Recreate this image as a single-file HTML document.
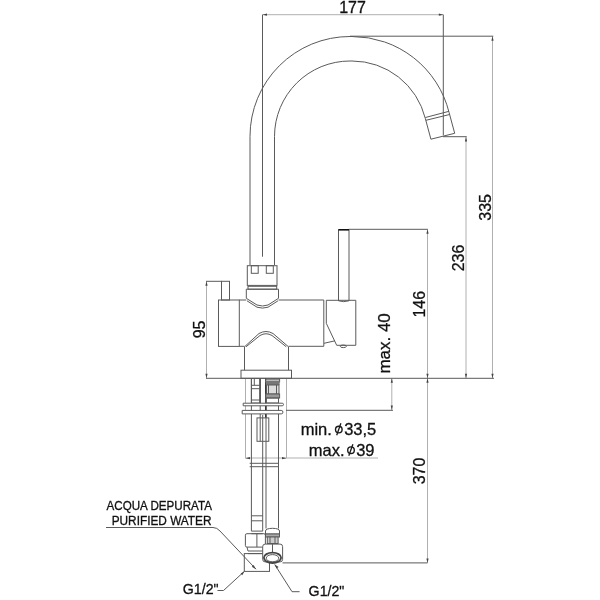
<!DOCTYPE html>
<html><head><meta charset="utf-8">
<style>
html,body{margin:0;padding:0;background:#fff;width:600px;height:600px;overflow:hidden}
svg{display:block;filter:grayscale(100%)}
text{font-family:"Liberation Sans",sans-serif;fill:#111;stroke:#111;stroke-width:0.3}
.d{stroke:#b0b0b0;stroke-width:1;fill:none}
.e{stroke:#5a5a5a;stroke-width:1;fill:none}
.b{stroke:#5a5a5a;stroke-width:1;fill:none}
.t{stroke:#5a5a5a;stroke-width:1;fill:none}
</style></head><body>
<svg width="600" height="600" viewBox="0 0 600 600">
<rect width="600" height="600" fill="#fff"/>
<!-- dimension lines -->
<g class="d">
<path d="M262.5 14.7H443.3M492.5 36.2V378.3M466 136.7V378.3M427.5 229.3V562.9M206.5 281.3V378.3M391.8 378.3V410M245.5 378.5V458M286.5 378.5V458M245 458H378"/>
</g>
<g class="e">
<path d="M262.5 14.7V256.7M443.3 14.7V135.3M350 36.2H493.3M443 136.7H466.7M348.7 229.3H427.8M206 378.3H494M286 410.3H393M282.5 562.9H427.5"/>
</g>
<!-- spout -->
<g class="b">
<path d="M250 265V136.5A100 100 0 0 1 350 36.5H352A100 100 0 0 1 449.07 112.48L454.7 133.3L430.9 139.2L425.3 118.37A75.5 75.5 0 0 0 352 61H350A75.5 75.5 0 0 0 274.5 136.5V265"/>
<path d="M425.4 117.5L449 111.3M425.9 120.3L449.6 114.5"/>
<!-- collar -->
<rect x="247.3" y="265.7" width="29.7" height="19.7"/>
<rect x="251.3" y="265.7" width="6.9" height="7.6"/>
<rect x="266.3" y="265.7" width="7" height="7.6"/>
<rect x="248" y="286.3" width="28.7" height="2.9"/>
<path d="M246.3 289.2V298.3L257 305Q262.5 307 268 305L278.5 298.3V289.2Z"/>
<path d="M247 300.8L257 307.2Q262.5 309 268 307.2L278 300.8"/>
<!-- body -->
<path d="M239.3 300H246.3M278.5 300H323.8V346.3H288.5M244.5 346.3H239.3"/>
<rect x="218.5" y="300" width="20.8" height="46.4"/>
<rect x="221.5" y="281.3" width="8" height="18.7"/>
<path d="M206 281.3H221.5"/>
<path d="M244.5 370.2V346.8L259 333.5Q266 329.5 273 333.5L288.5 346.8V370.2"/>
<path d="M246 346.8L260 335.5Q266 332 272 335.5L286.3 346.8"/>
<rect x="241" y="370.2" width="50.5" height="8.1"/>
<!-- lever base -->
<path d="M326.3 300.3H355.8V345.3H336.7L326.3 323.3Z"/>
<path d="M324 343.3L335 340.8"/>
<ellipse cx="343.3" cy="346.3" rx="3" ry="1.3"/>
<path d="M338.5 300.8V229.5H349V300.8Q343.7 302.5 338.5 300.8"/>
<path d="M338.5 229.8H349" stroke="#111" stroke-width="1.6"/>
</g>
<!-- shank -->
<g class="t">
<path d="M251.4 378.5V531.1M262.7 415V531.1M260.2 378.5V418M266 378.5V528.5M278.5 398V528.5"/>
<path d="M260.2 378.5V403" stroke-width="1.6"/>
<path d="M265.8 378.5V418" stroke-width="1.5" stroke="#333"/>
<rect x="251.4" y="378.5" width="8.5" height="24.5"/>
<path d="M254.3 378.5V385.3M251.4 385.3H259.9M251.4 388.7H259.9M251.4 400H259.9"/>
<rect x="265.8" y="379" width="13.8" height="3" fill="#bbb"/>
<rect x="265.8" y="381" width="13.8" height="4" fill="#777" stroke="none"/>
<rect x="266.5" y="385" width="12.5" height="9" fill="#ddd"/>
<path d="M268.5 385V394M276.5 385V394"/>
<rect x="265.8" y="394" width="13.8" height="4" fill="#999"/>
<rect x="265.8" y="398" width="12.7" height="5"/>
<path d="M243.2 403.2H282.2A1.3 1.3 0 0 1 282.2 405.8H243.2Z" fill="#fff"/>
<path d="M242.2 410.4H281.2A1.75 1.75 0 0 1 281.2 413.9H242.2Z" fill="#fff"/>
<rect x="257" y="417.9" width="11.8" height="23.4" fill="#fff"/>
<path d="M260.2 417.9V441.3M262.7 417.9V441.3M266 417.9V441.3"/>
<path d="M249.7 463.3H278.8M249.7 466.7H278.8"/>
<path d="M251.4 515.8H262.7M251.4 520.8H262.7M251.4 531.1H262.7M251.4 533.7H262.7"/>
<!-- left fitting -->
<rect x="245.4" y="533.7" width="20" height="13.4" rx="1.5"/>
<path d="M256.9 533.7V547.1M247 547.1L248 551H264M248 553.6H264"/>
<rect x="244.3" y="553.6" width="25.2" height="17.8"/>
<!-- right fitting -->
<path d="M265.5 534V531Q265.5 528.5 272.5 528.3Q279.5 528.5 279.5 531V534Z" fill="#fff"/>
<rect x="265.5" y="534" width="14" height="3" fill="#aaa"/>
<rect x="267.3" y="537" width="10.8" height="6.5" fill="#ccc"/>
<path d="M270 537V543.5M275 537V543.5"/>
<rect x="262.7" y="544.1" width="19.9" height="17.8" rx="2.5" fill="#fff"/>
<path d="M272.5 544.1V553"/>
<ellipse cx="272.5" cy="557.8" rx="8.6" ry="5.2" stroke-width="1.8" stroke="#444"/>
<ellipse cx="272.5" cy="558.2" rx="6.3" ry="3.6" fill="#fff"/>
</g>
<!-- leaders -->
<g class="t">
<path d="M106 527.5H213Q217 527.5 220 531L256 569.2"/>
<path d="M217.5 590.5H223.5L244.3 571.4"/>
<path d="M274.7 564.5L292 591.7H299.6"/>
</g>
<!-- arrowheads -->
<g fill="#444" stroke="none">
<path d="M256 569.2l-4.2-2.4l1.8-1.8z"/>
<path d="M244.3 571.4l-2 3.8l-1.6-1.8z"/>
<path d="M274.7 564.5l3.9 2.4l-2.1 1.5z"/>
<path d="M262.5 14.7l4.5-1.1v2.2z"/>
<path d="M443.3 14.7l-4.5-1.1v2.2z"/>
<path d="M492.5 36.2l-1.1 4.5h2.2z"/>
<path d="M492.5 378.3l-1.1-4.5h2.2z"/>
<path d="M466 136.9l-1.1 4.5h2.2z"/>
<path d="M466 378.3l-1.1-4.5h2.2z"/>
<path d="M427.5 229.3l-1.1 4.5h2.2z"/>
<path d="M427.5 378.3l-1.1-4.5h2.2z"/>
<path d="M427.5 378.3l-1.1 4.5h2.2z"/>
<path d="M427.5 562.9l-1.1-4.5h2.2z"/>
<path d="M206.5 281.3l-1.1 4.5h2.2z"/>
<path d="M206.5 378.3l-1.1-4.5h2.2z"/>
<path d="M391.8 378.3l-1.1 4.5h2.2z"/>
<path d="M391.8 410l-1.1-4.5h2.2z"/>
<path d="M245.5 458.2l4.5-1.1v2.2z"/>
<path d="M286.5 458.2l-4.5-1.1v2.2z"/>
</g>
<!-- texts -->
<text x="352.5" y="13.3" font-size="16" text-anchor="middle">177</text>
<text transform="translate(490.8,207.4) rotate(-90)" font-size="16" text-anchor="middle">335</text>
<text transform="translate(464,258) rotate(-90)" font-size="16" text-anchor="middle">236</text>
<text transform="translate(425.3,304.2) rotate(-90)" font-size="16" text-anchor="middle">146</text>
<text transform="translate(389.6,343.4) rotate(-90)" font-size="16" text-anchor="middle" textLength="60.3" lengthAdjust="spacingAndGlyphs">max. 40</text>
<text transform="translate(205,329.4) rotate(-90)" font-size="16" text-anchor="middle">95</text>
<text transform="translate(425.2,471) rotate(-90)" font-size="16" text-anchor="middle">370</text>
<text x="300.7" y="435.3" font-size="16.5">min.</text>
<text x="344.2" y="435.3" font-size="16.5">33,5</text>
<g stroke="#1a1a1a" fill="none"><ellipse cx="338.8" cy="429.6" rx="3.3" ry="3.3" stroke-width="1.4"/><path d="M340.9 423.2L336.7 435.2" stroke-width="1.3"/></g>
<text x="308.8" y="456.2" font-size="16.5">max.</text>
<text x="356.2" y="456.2" font-size="16.5">39</text>
<g stroke="#1a1a1a" fill="none"><ellipse cx="351" cy="450.2" rx="3.3" ry="3.3" stroke-width="1.4"/><path d="M352.9 444.3L348.8 455.8" stroke-width="1.3"/></g>
<text x="106.5" y="509.6" font-size="12.3" textLength="105.4" lengthAdjust="spacingAndGlyphs">ACQUA DEPURATA</text>
<text x="111.7" y="525" font-size="12.3" textLength="99.8" lengthAdjust="spacingAndGlyphs">PURIFIED WATER</text>
<text x="182.8" y="594" font-size="15.5" textLength="35.8" lengthAdjust="spacingAndGlyphs">G1/2"</text>
<text x="308.6" y="596.3" font-size="15.5" textLength="35.8" lengthAdjust="spacingAndGlyphs">G1/2"</text>
</svg>
</body></html>
